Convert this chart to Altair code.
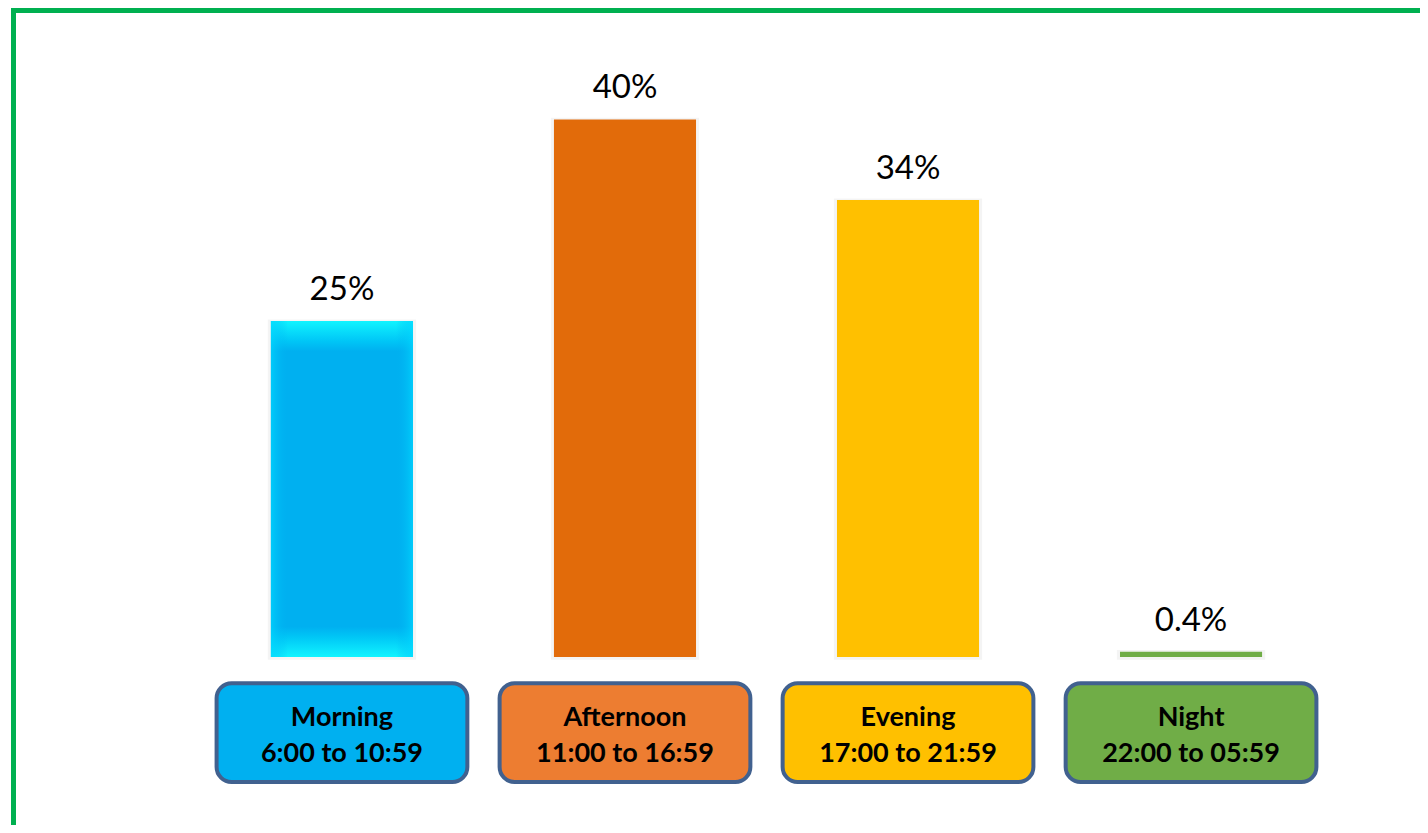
import altair as alt
import pandas as pd

# ---- data ----
categories = ["Morning", "Afternoon", "Evening", "Night"]
time_ranges = ["6:00 to 10:59", "11:00 to 16:59", "17:00 to 21:59", "22:00 to 05:59"]
shares = [25, 40, 34, 0.4]
share_labels = ["25%", "40%", "34%", "0.4%"]

# ---- styles ----
bar_colors = ["#00B0F0", "#E26B0A", "#FFC000", "#70AD47"]
box_colors = ["#00B0F0", "#ED7D31", "#FFC000", "#70AD47"]

df = pd.DataFrame({
    "cat": categories,
    "time": time_ranges,
    "share": shares,
    "label": share_labels,
    "idx": list(range(len(categories))),
})

W, H = 1412, 817
x_scale = alt.Scale(domain=[-1.180, 3.809], nice=False, zero=False)
y_scale = alt.Scale(domain=[-12.5, 48.29], nice=False, zero=False)
bar_color_scale = alt.Scale(domain=categories, range=bar_colors)
box_color_scale = alt.Scale(domain=categories, range=box_colors)

base = alt.Chart(df).transform_calculate(
    xl="datum.idx - 0.251",
    xr="datum.idx + 0.251",
    sl="datum.idx - 0.262",
    sr="datum.idx + 0.262",
    stop="datum.share + 0.12",
    bl="datum.idx - 0.443",
    br="datum.idx + 0.443",
)

shadow = base.mark_rect(color="#000000", opacity=0.045).encode(
    x=alt.X("sl:Q", scale=x_scale, axis=None),
    x2="sr:Q",
    y=alt.Y("stop:Q", scale=y_scale, axis=None),
    y2=alt.datum(-0.2),
)

bars = base.mark_rect().encode(
    x=alt.X("xl:Q", scale=x_scale, axis=None),
    x2="xr:Q",
    y=alt.Y("share:Q", scale=y_scale, axis=None),
    y2=alt.datum(0),
    color=alt.Color("cat:N", scale=bar_color_scale, legend=None),
)

vgrad = alt.LinearGradient(
    gradient="linear", x1=0, y1=0, x2=0, y2=1,
    stops=[
        alt.GradientStop(color="#10F4FF", offset=0),
        alt.GradientStop(color="#00C6F6", offset=0.06),
        alt.GradientStop(color="#00B0F0", offset=0.09),
        alt.GradientStop(color="#00B0F0", offset=0.91),
        alt.GradientStop(color="#00C6F6", offset=0.94),
        alt.GradientStop(color="#10F4FF", offset=1),
    ],
)
hgrad = alt.LinearGradient(
    gradient="linear", x1=0, y1=0, x2=1, y2=0,
    stops=[
        alt.GradientStop(color="rgba(0,215,255,0.7)", offset=0),
        alt.GradientStop(color="rgba(0,176,240,0)", offset=0.12),
        alt.GradientStop(color="rgba(0,176,240,0)", offset=0.88),
        alt.GradientStop(color="rgba(0,215,255,0.7)", offset=1),
    ],
)
morning = base.transform_filter("datum.cat == 'Morning'")
bevel1 = morning.mark_rect(fill=vgrad).encode(
    x=alt.X("xl:Q", scale=x_scale, axis=None),
    x2="xr:Q",
    y=alt.Y("share:Q", scale=y_scale, axis=None),
    y2=alt.datum(0),
)
bevel2 = morning.mark_rect(fill=hgrad).encode(
    x=alt.X("xl:Q", scale=x_scale, axis=None),
    x2="xr:Q",
    y=alt.Y("share:Q", scale=y_scale, axis=None),
    y2=alt.datum(0),
)

value_labels = base.mark_text(
    font="Lato", fontSize=33, dy=-21, baseline="alphabetic", color="#000000"
).encode(
    x=alt.X("idx:Q", scale=x_scale, axis=None),
    y=alt.Y("share:Q", scale=y_scale, axis=None),
    text="label:N",
)

boxes = base.mark_rect(cornerRadius=15, stroke="#41618F", strokeWidth=4).encode(
    x=alt.X("bl:Q", scale=x_scale, axis=None),
    x2="br:Q",
    y=alt.datum(-1.95),
    y2=alt.datum(-9.3),
    fill=alt.Fill("cat:N", scale=box_color_scale, legend=None),
)

box_line1 = base.mark_text(
    font="Lato", fontWeight="bold", fontSize=27, baseline="alphabetic", color="#000000"
).encode(
    x=alt.X("idx:Q", scale=x_scale, axis=None),
    y=alt.datum(-5.13),
    text="cat:N",
)
box_line2 = base.mark_text(
    font="Lato", fontWeight="bold", fontSize=27, baseline="alphabetic", color="#000000"
).encode(
    x=alt.X("idx:Q", scale=x_scale, axis=None),
    y=alt.datum(-7.81),
    text="time:N",
)

frame_df = pd.DataFrame({"k": [0]})
left_border = alt.Chart(frame_df).mark_rule(color="#00B050", strokeWidth=5).encode(
    x=alt.value(5.5), y=alt.value(0), y2=alt.value(H)
)
top_border = alt.Chart(frame_df).mark_rule(color="#00B050", strokeWidth=5).encode(
    x=alt.value(3), x2=alt.value(W), y=alt.value(2.5)
)

chart = alt.layer(
    shadow, bars, bevel1, bevel2, value_labels, boxes, box_line1, box_line2,
    left_border, top_border,
).resolve_scale(color="independent", fill="independent").properties(
    width=W, height=H, padding=0,
    autosize=alt.AutoSizeParams(type="none"),
    background="#FFFFFF",
).configure_view(stroke=None)

chart.save("out.html", embed_options={"renderer": "svg", "actions": False})
